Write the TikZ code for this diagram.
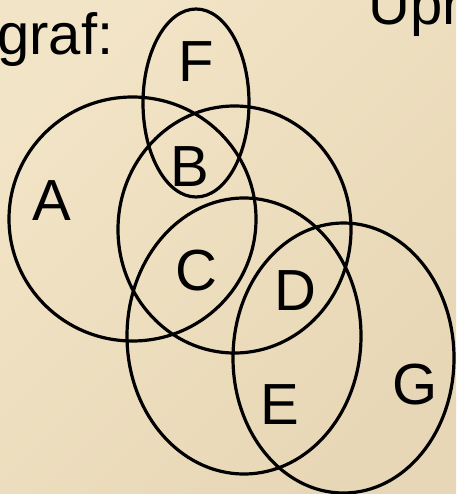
\documentclass[tikz,border=0pt]{standalone}
\usepackage{fontspec}
\setmainfont{Liberation Sans}
\usetikzlibrary{positioning}

\definecolor{paperA}{RGB}{242,228,198}
\definecolor{paperB}{RGB}{231,215,182}

\begin{document}
\begin{tikzpicture}[x=1pt,y=-1pt,
    set/.style={draw=black,line width=3.2pt},
    lbl/.style={anchor=base,inner sep=0pt,font=\fontsize{58}{62}\selectfont}]
    % Background
    \shade[left color=paperA,right color=paperB,shading angle=45] (0,0) rectangle (456,494);
    \useasboundingbox (0,0) rectangle (456,494);

    % Sets
    \draw[set] (196,103) ellipse [x radius=53, y radius=94];
    \draw[set] (132.5,219) ellipse [x radius=123.5, y radius=122];
    \draw[set] (234.5,229.5) ellipse [x radius=116.5, y radius=123.5];
    \draw[set] (244,336) ellipse [x radius=117, y radius=138];
    \draw[set] (343.5,358) ellipse [x radius=110.5, y radius=135];

    % Labels
    \node[lbl] (lblF) at (196,82) {F};
    \node[lbl] (lblB) at (190,186) {B};
    \node[lbl] (lblA) at (52,220) {A};
    \node[lbl] (lblC) at (196,290) {C};
    \node[lbl] (lblD) at (295,310) {D};
    \node[lbl] (lblE) at (280,424) {E};
    \node[lbl] (lblG) at (415,404) {G};

    % Slide text
    \node[lbl,anchor=base west] (graf) at (-3,55) {graf:};
    \node[lbl,anchor=base west] (upr) at (368,25) {Upr};
\end{tikzpicture}
\end{document}
